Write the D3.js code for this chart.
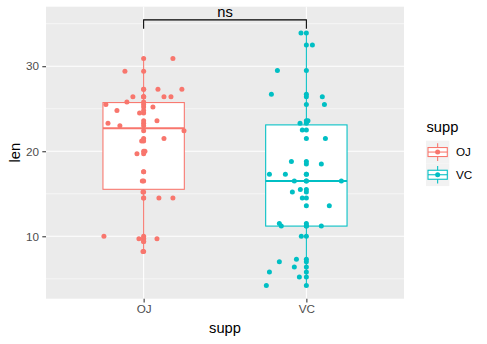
<!DOCTYPE html>
<html><head><meta charset="utf-8">
<script src="https://cdn.jsdelivr.net/npm/d3@7"></script>
<style>body{margin:0;background:#fff}svg{display:block;font-family:"Liberation Sans",Arial,sans-serif}</style>
</head><body><svg id="c" width="487" height="344"></svg>
<script>
const categories = ["OJ","VC"];
const colors = ["#F8766D","#00BFC4"];
const ojLen = [15.2,21.5,17.6,9.7,14.5,10.0,8.2,9.4,16.5,9.7,
               19.7,23.3,23.6,26.4,20.0,25.2,25.8,21.2,14.5,27.3,
               25.5,26.4,22.4,24.5,24.8,30.9,26.4,27.3,29.4,23.0];
const ojJitter = [-0.004,0.125,0,0.082,0.094,-0.244,-0.004,0,-0.008,-0.029,
                  -0.041,-0.219,0.082,0.125,0.008,0.057,-0.103,-0.012,0.18,0.088,
                  -0.232,0.168,0.248,-0.025,-0.164,0.18,-0.066,0.235,-0.115,-0.146];
const vcLen = [4.2,11.5,7.3,5.8,6.4,10.0,11.2,11.2,5.2,7.0,
               16.5,16.5,15.2,17.3,22.5,17.3,13.6,14.5,18.8,15.5,
               23.6,18.5,33.9,25.5,26.4,32.5,26.7,21.5,23.3,29.5];
const vcJitter = [-0.246,-0.166,-0.061,-0.227,-0.074,-0.031,-0.154,0.092,-0.043,-0.166,
                  -0.074,0.215,-0.086,-0.227,-0.025,-0.129,0.141,-0.025,-0.092,-0.037,
                  0.01,0.092,-0.033,0.111,0.098,0.037,-0.215,0.117,-0.039,-0.178];
const yTicks = [10,20,30];
const yMinor = [5,15,25,35];
const bracket = {from:"OJ", to:"VC", y:35.45, tip:34.4, label:"ns"};

const svg = d3.select("#c");
const P = {l:46, r:404, t:6.7, b:298.7};
const x = d3.scalePoint().domain(categories).range([P.l,P.r]).padding(0.6);
const step = x.step();
const y = d3.scaleLinear().domain([2.66,37.0]).range([P.b,P.t]);
const col = d3.scaleOrdinal().domain(categories).range(colors);

svg.append("rect").attr("x",P.l).attr("y",P.t).attr("width",P.r-P.l).attr("height",P.b-P.t).attr("fill","#EBEBEB");
const g = svg.append("g");
g.selectAll(".ymin").data(yMinor).join("line").attr("x1",P.l).attr("x2",P.r)
  .attr("y1",d=>y(d)).attr("y2",d=>y(d)).attr("stroke","#fff").attr("stroke-width",0.55);
g.selectAll(".ymaj").data(yTicks).join("line").attr("x1",P.l).attr("x2",P.r)
  .attr("y1",d=>y(d)).attr("y2",d=>y(d)).attr("stroke","#fff").attr("stroke-width",1.07);
g.selectAll(".xmaj").data(categories).join("line").attr("y1",P.t).attr("y2",P.b)
  .attr("x1",d=>x(d)).attr("x2",d=>x(d)).attr("stroke","#fff").attr("stroke-width",1.07);

const groups = [{k:"OJ",v:ojLen,j:ojJitter},{k:"VC",v:vcLen,j:vcJitter}];
groups.forEach(G=>{
  const s = G.v.slice().sort(d3.ascending);
  const q1=d3.quantile(s,0.25), med=d3.quantile(s,0.5), q3=d3.quantile(s,0.75);
  const iqr=q3-q1;
  const lo=d3.min(s.filter(d=>d>=q1-1.5*iqr)), hi=d3.max(s.filter(d=>d<=q3+1.5*iqr));
  const cx=x(G.k), hw=step*0.25, c=col(G.k);
  const bg=svg.append("g");
  bg.append("line").attr("x1",cx).attr("x2",cx).attr("y1",y(hi)).attr("y2",y(q3)).attr("stroke",c).attr("stroke-width",1.07);
  bg.append("line").attr("x1",cx).attr("x2",cx).attr("y1",y(q1)).attr("y2",y(lo)).attr("stroke",c).attr("stroke-width",1.07);
  bg.append("rect").attr("x",cx-hw).attr("width",2*hw).attr("y",y(q3)).attr("height",y(q1)-y(q3))
    .attr("fill","#fff").attr("stroke",c).attr("stroke-width",1.07);
  bg.append("line").attr("x1",cx-hw).attr("x2",cx+hw).attr("y1",y(med)).attr("y2",y(med)).attr("stroke",c).attr("stroke-width",2.1);
});
groups.forEach(G=>{
  const c=col(G.k);
  svg.append("g").selectAll("circle").data(G.v).join("circle")
    .attr("cx",x(G.k)).attr("cy",d=>y(d)).attr("r",2.5).attr("fill",c);
  svg.append("g").selectAll("circle").data(G.v).join("circle")
    .attr("cx",(d,i)=>x(G.k)+G.j[i]*step).attr("cy",d=>y(d)).attr("r",2.5).attr("fill",c);
});

// bracket
svg.append("path").attr("fill","none").attr("stroke","#000").attr("stroke-width",1.07)
  .attr("d",`M${x(bracket.from)},${y(bracket.tip)}V${y(bracket.y)}H${x(bracket.to)}V${y(bracket.tip)}`);
svg.append("text").attr("x",(x(bracket.from)+x(bracket.to))/2).attr("y",y(bracket.y)-2.5)
  .attr("text-anchor","middle").attr("font-size",14.7).attr("fill","#000").text(bracket.label);

// axes
const ya = svg.append("g").attr("transform",`translate(${P.l},0)`)
  .call(d3.axisLeft(y).tickValues(yTicks).tickSize(3.7).tickPadding(3.3));
const xa = svg.append("g").attr("transform",`translate(0,${P.b})`)
  .call(d3.axisBottom(x).tickSize(3.7).tickPadding(2.5));
[ya,xa].forEach(a=>{
  a.select(".domain").remove();
  a.selectAll(".tick line").attr("stroke","#333").attr("stroke-width",1.07);
  a.selectAll(".tick text").attr("fill","#4D4D4D").attr("font-size",11.7).attr("font-family","Liberation Sans, Arial, sans-serif");
});
svg.append("text").attr("x",(P.l+P.r)/2).attr("y",332.5).attr("text-anchor","middle")
  .attr("font-size",14.7).attr("fill","#000").text("supp");
svg.append("text").attr("transform",`translate(20,${(P.t+P.b)/2}) rotate(-90)`).attr("text-anchor","middle")
  .attr("font-size",14.7).attr("fill","#000").text("len");

// legend
const L = svg.append("g");
L.append("text").attr("x",426.5).attr("y",132.3).attr("font-size",14.7).attr("fill","#000").text("supp");
categories.forEach((k,i)=>{
  const ky=140.7+i*22.7, kx=426, kw=23.3, kh=22.7, c=col(k), mx=kx+kw/2, my=ky+kh/2;
  const kg=L.append("g");
  kg.append("rect").attr("x",kx).attr("y",ky).attr("width",kw).attr("height",kh).attr("fill","#F2F2F2");
  kg.append("line").attr("x1",mx).attr("x2",mx).attr("y1",ky+2.5).attr("y2",ky+kh-2.5).attr("stroke",c).attr("stroke-width",1.07);
  kg.append("rect").attr("x",kx+2).attr("y",my-4.5).attr("width",kw-4).attr("height",9).attr("fill","#fff").attr("stroke",c).attr("stroke-width",1.07);
  kg.append("line").attr("x1",kx+2).attr("x2",kx+kw-2).attr("y1",my).attr("y2",my).attr("stroke",c).attr("stroke-width",1.07);
  kg.append("circle").attr("cx",mx).attr("cy",my).attr("r",2.5).attr("fill",c);
  L.append("text").attr("x",456).attr("y",my+4.2).attr("font-size",11.7).attr("fill","#000").text(k);
});
</script></body></html>
